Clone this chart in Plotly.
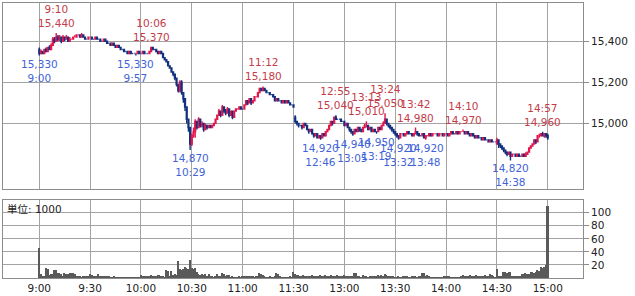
import plotly.graph_objects as go

# ---- session minute labels (morning 9:00-11:30, afternoon 12:31-15:00) ----
times = []
for m in range(9 * 60, 11 * 60 + 31):
    times.append(f"{m // 60}:{m % 60:02d}")
for m in range(12 * 60 + 31, 15 * 60 + 1):
    times.append(f"{m // 60}:{m % 60:02d}")

opens = [
    15360,15340,15350,15340,15360,15350,15370,15360,15380,15410,
    15400,15420,15410,15420,15400,15420,15410,15420,15400,15410,
    15410,15420,15420,15430,15430,15420,15430,15420,15410,15410,
    15420,15420,15410,15410,15420,15410,15410,15400,15400,15410,
    15400,15390,15390,15380,15390,15380,15370,15380,15370,15360,
    15360,15350,15350,15340,15350,15340,15340,15340,15340,15350,
    15340,15340,15350,15340,15340,15340,15350,15370,15360,15360,
    15350,15340,15350,15340,15320,15310,15300,15280,15270,15250,
    15240,15220,15190,15160,15200,15150,15120,15080,15020,14980,
    14900,14940,14960,15010,14980,15020,14990,15000,14970,14990,
    14980,14990,14980,14990,15000,15020,15040,15060,15040,15080,
    15060,15050,15070,15040,15060,15030,15060,15070,15070,15080,
    15070,15070,15090,15110,15100,15120,15100,15110,15130,15130,
    15150,15170,15160,15170,15160,15150,15150,15140,15140,15130,
    15110,15120,15110,15110,15100,15110,15100,15110,15100,15090,
    15090,15030,15010,15000,14990,14990,14980,15000,14990,14970,
    14960,14970,14950,14940,14950,14930,14940,14930,14950,14940,
    14960,14970,14990,15010,15000,15030,15020,15020,15020,15010,
    15010,14990,15000,14980,14970,14960,14950,14970,14960,14980,
    14970,14960,14980,14990,14990,14970,14980,14960,14970,14960,
    14960,14980,14970,14990,15000,15020,15000,14990,14980,14970,
    14960,14950,14940,14930,14950,14950,14940,14950,14960,14950,
    14950,14940,14950,14960,14950,14940,14940,14950,14930,14940,
    14940,14950,14940,14950,14950,14950,14940,14950,14950,14940,
    14950,14950,14940,14950,14960,14950,14950,14960,14950,14960,
    14960,14960,14950,14960,14950,14940,14950,14940,14930,14940,
    14930,14930,14920,14930,14920,14920,14910,14920,14910,14910,
    14900,14920,14900,14890,14880,14870,14860,14850,14860,14840,
    14850,14850,14840,14850,14840,14840,14850,14840,14850,14860,
    14880,14890,14900,14920,14910,14940,14940,14950,14940,14950,14940,
]
closes = [
    15340,15350,15340,15360,15350,15370,15360,15380,15410,15400,
    15420,15410,15420,15400,15420,15410,15420,15400,15410,15410,
    15420,15420,15430,15430,15420,15430,15420,15410,15410,15420,
    15420,15410,15410,15420,15410,15410,15400,15400,15410,15400,
    15390,15390,15380,15390,15380,15370,15380,15370,15360,15360,
    15350,15350,15340,15350,15340,15340,15340,15340,15350,15340,
    15340,15350,15340,15340,15340,15350,15370,15360,15360,15350,
    15340,15350,15340,15320,15310,15300,15280,15270,15250,15240,
    15220,15190,15160,15200,15150,15120,15080,15020,14980,14900,
    14940,14960,15010,14980,15020,14990,15000,14970,14990,14980,
    14990,14980,14990,15000,15020,15040,15060,15040,15080,15060,
    15050,15070,15040,15060,15030,15060,15070,15070,15080,15070,
    15070,15090,15110,15100,15120,15100,15110,15130,15130,15150,
    15170,15160,15170,15160,15150,15150,15140,15140,15130,15110,
    15120,15110,15110,15100,15110,15100,15110,15100,15090,15090,
    15080,15010,15000,14990,14990,14980,15000,14990,14970,14960,
    14970,14950,14940,14950,14930,14940,14930,14950,14940,14960,
    14970,14990,15010,15000,15030,15020,15020,15020,15010,15010,
    14990,15000,14980,14970,14960,14950,14970,14960,14980,14970,
    14960,14980,14990,14990,14970,14980,14960,14970,14960,14960,
    14980,14970,14990,15000,15020,15000,14990,14980,14970,14960,
    14950,14940,14930,14950,14950,14940,14950,14960,14950,14950,
    14940,14950,14960,14950,14940,14940,14950,14930,14940,14940,
    14950,14940,14950,14950,14950,14940,14950,14950,14940,14950,
    14950,14940,14950,14960,14950,14950,14960,14950,14960,14960,
    14960,14950,14960,14950,14940,14950,14940,14930,14940,14930,
    14930,14920,14930,14920,14920,14910,14920,14910,14910,14910,
    14920,14900,14890,14880,14870,14860,14850,14860,14840,14850,
    14850,14840,14850,14840,14840,14850,14840,14850,14860,14880,
    14890,14900,14920,14910,14940,14940,14950,14940,14950,14940,14930,
]
highs = [
    15370,15360,15350,15360,15370,15370,15380,15390,15420,15420,
    15440,15430,15430,15420,15430,15420,15430,15420,15420,15410,
    15420,15430,15430,15430,15430,15440,15430,15420,15410,15420,
    15420,15420,15410,15420,15420,15410,15410,15400,15410,15410,
    15400,15390,15390,15390,15390,15380,15380,15380,15370,15360,
    15360,15350,15350,15350,15350,15340,15340,15340,15350,15350,
    15340,15350,15350,15340,15340,15350,15370,15370,15360,15360,
    15350,15350,15350,15340,15320,15310,15300,15280,15270,15250,
    15240,15220,15190,15210,15210,15150,15120,15080,15020,14980,
    14950,14980,15020,15010,15030,15020,15010,15000,15000,14990,
    14990,14990,14990,15000,15020,15040,15070,15060,15090,15080,
    15070,15080,15070,15060,15060,15060,15070,15070,15080,15080,
    15070,15090,15110,15110,15120,15120,15110,15130,15130,15150,
    15170,15170,15180,15170,15160,15150,15150,15140,15140,15130,
    15120,15120,15110,15110,15110,15110,15110,15110,15100,15090,
    15090,15040,15010,15000,14990,14990,15000,15000,14990,14970,
    14970,14970,14950,14950,14950,14940,14940,14950,14950,14960,
    14970,14990,15010,15010,15030,15040,15020,15020,15020,15010,
    15010,15000,15000,14980,14970,14960,14970,14970,14980,14980,
    14970,14980,15000,15010,14990,14980,14980,14970,14970,14960,
    14980,14980,14990,15010,15050,15020,15000,14990,14980,14970,
    14960,14950,14940,14950,14950,14950,14950,14960,14960,14950,
    14950,14950,14980,14960,14950,14940,14950,14950,14940,14940,
    14950,14950,14950,14950,14950,14950,14950,14950,14950,14950,
    14950,14950,14950,14960,14960,14950,14960,14960,14960,14960,
    14970,14960,14960,14960,14950,14950,14950,14940,14940,14940,
    14930,14930,14930,14930,14920,14920,14920,14920,14910,14910,
    14930,14920,14900,14890,14880,14870,14860,14860,14860,14850,
    14850,14850,14850,14850,14840,14850,14850,14860,14860,14880,
    14890,14900,14920,14920,14940,14950,14950,14960,14950,14950,14950,
]
lows = [
    15330,15340,15340,15340,15350,15350,15360,15360,15380,15390,
    15400,15400,15400,15390,15400,15400,15410,15400,15400,15410,
    15410,15420,15420,15430,15420,15420,15420,15410,15410,15410,
    15420,15410,15410,15410,15410,15410,15400,15400,15400,15400,
    15390,15390,15380,15380,15380,15370,15370,15370,15360,15360,
    15350,15350,15340,15340,15340,15340,15340,15330,15340,15340,
    15340,15340,15340,15340,15340,15340,15350,15360,15360,15350,
    15340,15340,15340,15320,15310,15300,15280,15270,15250,15230,
    15210,15180,15150,15150,15140,15100,15060,15000,14960,14870,
    14890,14930,14930,14970,14980,14980,14980,14960,14970,14970,
    14980,14980,14980,14990,15000,15020,15040,15030,15040,15050,
    15040,15050,15030,15040,15020,15030,15060,15070,15070,15070,
    15070,15070,15090,15090,15100,15090,15100,15110,15130,15130,
    15150,15160,15160,15160,15150,15150,15140,15140,15130,15110,
    15110,15110,15110,15100,15100,15100,15100,15100,15090,15090,
    15080,15000,14990,14980,14990,14970,14980,14990,14970,14950,
    14960,14950,14930,14940,14930,14930,14920,14930,14940,14940,
    14960,14970,14990,14990,15000,15020,15020,15020,15010,15010,
    14990,14990,14980,14960,14950,14940,14950,14960,14960,14960,
    14960,14960,14980,14980,14970,14970,14960,14960,14960,14950,
    14960,14970,14970,14990,15000,14990,14980,14970,14960,14950,
    14940,14930,14920,14930,14950,14940,14940,14950,14950,14950,
    14940,14940,14950,14940,14940,14940,14940,14930,14920,14940,
    14940,14940,14940,14950,14950,14940,14940,14950,14940,14940,
    14950,14940,14940,14950,14950,14950,14950,14950,14950,14960,
    14960,14950,14950,14950,14940,14940,14940,14930,14930,14930,
    14930,14920,14920,14920,14920,14910,14910,14910,14910,14910,
    14900,14880,14880,14870,14860,14850,14840,14850,14820,14840,
    14850,14840,14840,14840,14840,14840,14840,14840,14850,14860,
    14880,14890,14900,14900,14910,14930,14940,14940,14930,14930,14920,
]
volume = [
    47,7,4,3,16,15,5,7,6,13,
    12,8,8,6,4,8,7,6,8,8,
    8,7,4,3,3,2,4,4,3,3,
    6,5,4,3,4,6,3,4,4,3,
    4,4,2,2,3,2,2,1,2,1,
    2,2,1,2,2,1,2,2,1,2,
    5,4,4,4,4,3,5,3,4,3,
    5,5,3,4,2,12,11,4,11,5,
    6,5,27,14,12,14,18,16,14,28,
    16,14,16,10,6,5,6,5,6,4,
    6,4,3,2,4,6,4,3,8,6,
    4,5,5,2,3,2,2,2,3,2,
    3,4,3,4,4,3,3,2,3,3,
    8,6,5,4,2,2,3,2,2,3,
    8,7,3,2,2,2,1,2,3,2,
    10,7,5,5,4,4,5,3,4,3,
    3,5,3,4,3,4,5,4,3,5,
    4,3,5,3,4,3,5,4,3,4,
    5,4,3,4,3,4,8,8,4,3,
    2,5,4,3,2,4,3,3,4,4,
    5,4,5,4,6,5,3,3,4,3,
    2,2,3,2,2,3,4,3,2,2,
    3,4,3,2,3,4,8,8,4,5,
    3,2,2,1,2,2,1,2,2,3,
    4,4,3,2,2,1,2,2,1,3,
    5,3,4,3,5,4,3,4,5,3,
    4,3,4,5,4,3,6,5,3,2,
    15,4,3,3,9,10,8,10,10,4,
    3,4,4,3,4,7,6,8,7,6,
    10,9,8,9,12,11,17,16,18,20,111,
]

high_marks = [("9:10", 15440), ("10:06", 15370), ("11:12", 15180), ("12:55", 15040),
              ("13:13", 15010), ("13:24", 15050), ("13:42", 14980), ("14:10", 14970),
              ("14:57", 14960)]
low_marks = [("9:00", 15330), ("9:57", 15330), ("10:29", 14870), ("12:46", 14920),
             ("13:05", 14940), ("13:19", 14950), ("13:32", 14920), ("13:48", 14920),
             ("14:38", 14820)]

tick_labels = ["9:00", "9:30", "10:00", "10:30", "11:00", "11:30",
               "13:00", "13:30", "14:00", "14:30", "15:00"]
# the merged 11:30 / 12:30 bar carries the "11:30" label
tick_cats = ["9:00", "9:30", "10:00", "10:30", "11:00", "11:30",
             "13:00", "13:30", "14:00", "14:30", "15:00"]
price_ticks = [15000, 15200, 15400]
vol_ticks = [20, 40, 60, 80, 100]

RED = "#e3164d"
NAVY = "#11307f"
LBL_RED = "#c43c48"
LBL_BLUE = "#4163d8"
GRID = "#a3a3a3"
BORDER = "#8c8c8c"
FONT = "DejaVu Sans, Noto Sans CJK JP, sans-serif"

fig = go.Figure()
fig.add_trace(go.Candlestick(
    x=times, open=opens, high=highs, low=lows, close=closes,
    xaxis="x", yaxis="y",
    increasing=dict(line=dict(color=RED, width=1.4), fillcolor=RED),
    decreasing=dict(line=dict(color=NAVY, width=1.4), fillcolor=NAVY),
    whiskerwidth=0, hoverinfo="skip", showlegend=False,
))
fig.add_trace(go.Bar(
    x=times, y=volume, xaxis="x2", yaxis="y2",
    marker=dict(color="#5a5a5a", line=dict(width=0)), width=0.9,
    hoverinfo="skip", showlegend=False,
))

xr = [-21.4, 320.8]
common_x = dict(type="category", categoryorder="array", categoryarray=times,
                range=xr, tickvals=tick_cats, ticktext=tick_labels,
                showgrid=True, gridcolor=GRID, gridwidth=1,
                showline=True, mirror=True, linecolor=BORDER, linewidth=1,
                ticks="", zeroline=False, fixedrange=True)

annotations = []
for t, p in high_marks:
    annotations.append(dict(x=t, y=p, xref="x", yref="y", text=f"{t}<br>{p:,}",
                            showarrow=False, yanchor="bottom", yshift=2,
                            font=dict(color=LBL_RED, size=10.5, family=FONT)))
for t, p in low_marks:
    annotations.append(dict(x=t, y=p, xref="x", yref="y", text=f"{p:,}<br>{t}",
                            showarrow=False, yanchor="top", yshift=0,
                            font=dict(color=LBL_BLUE, size=10.5, family=FONT)))
annotations.append(dict(x=0, y=1, xref="x2 domain", yref="y2 domain", text="単位: 1000",
                        showarrow=False, xanchor="left", yanchor="top", xshift=2, yshift=-1,
                        font=dict(color="#222222", size=10.5, family=FONT)))

fig.update_layout(
    width=635, height=296,
    margin=dict(l=3, r=52, t=2, b=13),
    paper_bgcolor="white", plot_bgcolor="white",
    font=dict(family=FONT, size=10.5, color="#222222"),
    xaxis=dict(common_x, anchor="y", showticklabels=False,
               rangeslider=dict(visible=False)),
    yaxis=dict(domain=[0.3238, 1.0], side="right", range=[14681, 15586],
               tickvals=price_ticks, tickformat=",", ticks="outside", ticklen=5,
               tickcolor=BORDER, showgrid=True, gridcolor=GRID, gridwidth=1,
               showline=True, mirror=True, linecolor=BORDER, linewidth=1,
               zeroline=False, fixedrange=True),
    xaxis2=dict(common_x, anchor="y2", showticklabels=True),
    yaxis2=dict(domain=[0.0, 0.2847], side="right", range=[0, 120],
                tickvals=vol_ticks, ticks="outside", ticklen=5, tickcolor=BORDER,
                showgrid=True, gridcolor=GRID, gridwidth=1,
                showline=True, mirror=True, linecolor=BORDER, linewidth=1,
                zeroline=False, fixedrange=True),
    annotations=annotations,
    bargap=0,
)

fig.write_html("out.html")
